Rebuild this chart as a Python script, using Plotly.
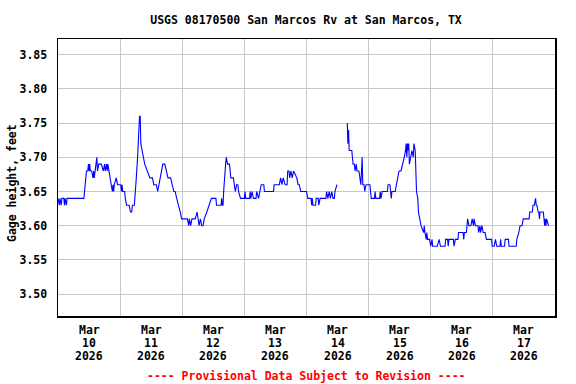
import datetime as dt
import plotly.graph_objects as go

# Hours after 2026-03-10 00:00 and gage height (ft); None marks a data gap
hours = [0, 0.5, 0.75, 1.25, 1.5, 2.25, 2.5, 2.75, 3.25, 3.5, 10.0, 10.25, 10.5, 11.0, 11.5, 11.75,
         12.0, 12.25, 12.5, 13.0, 13.5, 13.75, 14.0, 14.25, 14.5, 15.0, 15.25, 15.75, 16.75, 17.25,
         17.5, 18.0, 18.25, 18.75, 19.0, 19.25, 19.75, 20.0, 20.5, 21.0, 21.25, 21.5, 21.75, 22.5,
         23.0, 24.25, 24.5, 24.75, 25.0, 25.75, 26.0, 26.5, 27.5, 28.0, 28.5, 28.75, 29.5, 29.75,
         30.0, 30.25, 30.75, 31.25, 31.5, 31.75, 32.0, 32.5, 33.0, 33.5, 34.5, 35.5, 36.5, 37.0,
         38.0, 38.5, 39.0, 39.5, 40.0, 40.5, 41.25, 41.75, 42.5, 43.5, 44.0, 44.75, 45.25, 45.75,
         46.5, 47.25, 47.75, 50.0, 50.5, 50.75, 51.25, 51.75, 53.0, 53.75, 54.5, 55.0, 55.5, 56.0,
         56.5, 57.5, 58.5, 59.25, 61.0, 61.25, 63.0, 63.25, 63.5, 63.75, 64.0, 64.25, 64.75, 65.0,
         65.5, 66.25, 66.75, 67.75, 68.25, 68.5, 69.0, 69.5, 69.75, 70.5, 72.0, 72.25, 72.5, 74.0,
         74.25, 74.5, 75.0, 75.5, 76.5, 76.75, 77.5, 78.0, 78.5, 79.5, 79.75, 83.25, 83.5, 84.0,
         85.5, 86.0, 86.5, 87.0, 87.75, 88.5, 88.75, 89.25, 89.5, 90.0, 90.5, 91.0, 92.25, 92.75,
         93.25, 93.75, 96.0, 96.5, 97.75, 98.0, 98.25, 98.5, 99.5, 99.75, 100.5, 100.75, 101.25,
         103.5, 103.75, 104.25, 104.75, 105.25, 105.75, 106.25, 106.75, 107.0, 107.75, 109.5,
         111.75, 112.0, 112.25, 112.5, 113.5, 113.75, 114.0, 114.5, 114.75, 115.25, 115.5, 116.25,
         116.5, 117.0, 117.5, 117.75, 118.25, 118.5, 119.0, 120.5, 120.75, 121.0, 122.25, 122.5,
         122.75, 124.25, 124.5, 124.75, 125.25, 127.25, 127.5, 128.25, 128.5, 128.75, 129.0, 130.25,
         130.75, 131.25, 131.75, 132.5, 133.25, 133.75, 134.25, 134.5, 134.75, 135.0, 135.25, 135.5,
         135.75, 136.25, 136.75, 137.25, 137.5, 138.0, 138.25, 138.5, 139.0, 139.25, 139.75, 140.25,
         141.25, 141.5, 141.75, 142.25, 142.5, 142.75, 143.5, 144.0, 144.5, 144.75, 146.5, 147.25,
         147.75, 149.5, 149.75, 150.5, 150.75, 151.0, 152.75, 153.0, 153.5, 154.5, 154.75, 156.5,
         156.75, 157.0, 157.75, 158.0, 158.25, 158.75, 159.5, 160.0, 160.5, 160.75, 161.25, 162.25,
         162.5, 163.0, 163.25, 163.75, 164.25, 165.0, 165.5, 167.5, 167.75, 168.5, 169.0, 169.5,
         170.75, 171.0, 171.25, 172.5, 172.75, 174.0, 174.25, 177.0, 177.25, 178.0, 178.5, 179.25,
         179.75, 182.0, 182.25, 183.25, 183.5, 184.0, 184.5, 184.75, 185.0, 185.5, 185.75, 186.0,
         186.25, 187.5, 187.75, 188.0, 188.25, 188.5, 188.75, 189.25, 189.5]
gage_ft = [3.64, 3.63, 3.64, 3.63, 3.64, 3.64, 3.63, 3.64, 3.63, 3.64, 3.64, 3.65, 3.66, 3.68, 3.68, 3.69,
           3.68, 3.69, 3.68, 3.68, 3.67, 3.68, 3.67, 3.68, 3.69, 3.70, 3.68, 3.69, 3.69, 3.68,
           3.68, 3.69, 3.68, 3.69, 3.68, 3.69, 3.68, 3.67, 3.66, 3.65, 3.66, 3.65, 3.66, 3.67,
           3.66, 3.66, 3.65, 3.66, 3.65, 3.65, 3.64, 3.63, 3.63, 3.62, 3.62, 3.63, 3.63, 3.64,
           3.65, 3.67, 3.70, 3.75, 3.76, 3.76, 3.72, 3.71, 3.70, 3.69, 3.68, 3.67, 3.67, 3.66,
           3.66, 3.65, 3.66, 3.67, 3.68, 3.69, 3.69, 3.68, 3.67, 3.67, 3.66, 3.65, 3.65, 3.64,
           3.63, 3.62, 3.61, 3.61, 3.60, 3.61, 3.60, 3.61, 3.61, 3.62, 3.60, 3.61, 3.60, 3.60,
           3.61, 3.62, 3.63, 3.64, 3.64, 3.63, 3.63, 3.64, 3.63, 3.63, 3.65, 3.67, 3.69, 3.70,
           3.69, 3.69, 3.67, 3.67, 3.66, 3.65, 3.66, 3.66, 3.65, 3.64, 3.64, 3.65, 3.64, 3.64,
           3.65, 3.64, 3.65, 3.64, 3.64, 3.65, 3.64, 3.65, 3.66, 3.66, 3.65, 3.65, 3.66, 3.66,
           3.66, 3.67, 3.66, 3.67, 3.66, 3.66, 3.68, 3.68, 3.67, 3.68, 3.67, 3.68, 3.67, 3.66,
           3.66, 3.65, 3.65, 3.64, 3.64, 3.63, 3.64, 3.63, 3.63, 3.64, 3.64, 3.63, 3.64,
           3.64, 3.65, 3.64, 3.65, 3.64, 3.65, 3.64, 3.64, 3.65, 3.66, None,
           3.75, 3.72, 3.74, 3.71, 3.71, 3.70, 3.69, 3.69, 3.68, 3.69, 3.68, 3.68,
           3.67, 3.66, 3.70, 3.66, 3.66, 3.65, 3.66, 3.66, 3.65, 3.64, 3.64, 3.65,
           3.64, 3.64, 3.65, 3.64, 3.65, 3.65, 3.66, 3.66, 3.65, 3.64, 3.65, 3.65,
           3.66, 3.67, 3.68, 3.68, 3.69, 3.70, 3.71, 3.72, 3.70, 3.72, 3.71, 3.72,
           3.69, 3.70, 3.71, 3.70, 3.72, 3.71, 3.68, 3.65, 3.64, 3.62, 3.61, 3.60,
           3.59, 3.60, 3.59, 3.58, 3.59, 3.58, 3.58, 3.57, 3.58, 3.57, 3.57, 3.58,
           3.57, 3.57, 3.58, 3.58, 3.57, 3.58, 3.58, 3.57, 3.58, 3.58, 3.59, 3.59,
           3.58, 3.59, 3.59, 3.60, 3.61, 3.60, 3.60, 3.61, 3.60, 3.61, 3.60, 3.60,
           3.59, 3.60, 3.59, 3.60, 3.59, 3.59, 3.58, 3.58, 3.57, 3.57, 3.58, 3.57,
           3.57, 3.58, 3.57, 3.57, 3.58, 3.58, 3.57, 3.57, 3.58, 3.59, 3.60, 3.60,
           3.61, 3.61, 3.62, 3.62, 3.63, 3.63, 3.64, 3.63, 3.63, 3.62, 3.62, 3.61,
           3.62, 3.62, 3.61, 3.60, 3.61, 3.60, 3.61, 3.60, 3.60]

y_ticks = [3.50, 3.55, 3.60, 3.65, 3.70, 3.75, 3.80, 3.85]
month_label = "Mar"
day_numbers = ["10", "11", "12", "13", "14", "15", "16", "17"]
year_label = "2026"

start = dt.datetime(2026, 3, 10)
times = [start + dt.timedelta(hours=h) for h in hours]
noons = [start + dt.timedelta(days=i, hours=12) for i in range(len(day_numbers))]
midnights = [start + dt.timedelta(days=i) for i in range(1, 8)]

FONT = "DejaVu Sans Mono"
FS = 11.5
ML, MR, MT, MB = 58, 21, 39, 68
PLOT_W = 576 - ML - MR
PLOT_H = 384 - MT - MB

fig = go.Figure(go.Scatter(x=times, y=gage_ft, mode="lines", connectgaps=False,
                           line=dict(color="#0000ff", width=1.1), hoverinfo="skip"))

annotations = []
for t, d in zip(noons, day_numbers):
    for k, txt in enumerate([month_label, d, year_label]):
        ypix = 330 + 13 * k  # center of each label line
        annotations.append(dict(text=f"<b>{txt}</b>", xref="x", yref="paper", x=t,
                                y=-(ypix - 316) / PLOT_H, xanchor="center", yanchor="middle",
                                showarrow=False, font=dict(family=FONT, size=FS, color="black")))
annotations.append(dict(text="<b>---- Provisional Data Subject to Revision ----</b>",
                        xref="paper", yref="paper", x=0.5, y=-(376 - 316) / PLOT_H,
                        xanchor="center", yanchor="middle", showarrow=False,
                        font=dict(family=FONT, size=FS, color="red")))
annotations.append(dict(text="<b>Gage height, feet</b>", textangle=-90,
                        xref="paper", yref="paper", x=(12 - ML) / PLOT_W, y=(316 - 183) / PLOT_H,
                        xanchor="center", yanchor="middle", showarrow=False,
                        font=dict(family=FONT, size=FS, color="black")))

fig.update_layout(
    width=576, height=384,
    margin=dict(l=ML, r=MR, t=MT, b=MB, autoexpand=False),
    paper_bgcolor="white", plot_bgcolor="white",
    showlegend=False,
    font=dict(family=FONT, size=FS, color="black"),
    title=dict(text="<b>USGS 08170500 San Marcos Rv at San Marcos, TX</b>",
               x=306 / 576, xref="container", xanchor="center", y=1 - 20 / 384, yref="container",
               yanchor="middle", font=dict(family=FONT, size=FS, color="black")),
    xaxis=dict(range=[start, start + dt.timedelta(days=8)], automargin=False,
               tickmode="array", tickvals=noons, showticklabels=False,
               showgrid=False, ticks="",
               minor=dict(tickmode="array", tickvals=midnights, showgrid=True,
                          gridcolor="#c8c8c8", gridwidth=1, ticks=""),
               showline=True, linecolor="black", linewidth=1.5, mirror=True, zeroline=False),
    yaxis=dict(range=[3.468, 3.873], automargin=False, tickmode="array", tickvals=y_ticks,
               ticktext=[f"<b>{v:.2f}</b>" for v in y_ticks],
               showgrid=True, gridcolor="#c8c8c8", gridwidth=1, ticks="", ticklabelstandoff=7,
               tickfont=dict(family=FONT, size=FS),
               showline=True, linecolor="black", linewidth=1.5, mirror=True, zeroline=False),
    annotations=annotations,
)

fig.write_html("out.html", config={"displayModeBar": False, "staticPlot": True},
               post_script="document.body.style.margin='0';document.body.style.overflow='hidden';")
